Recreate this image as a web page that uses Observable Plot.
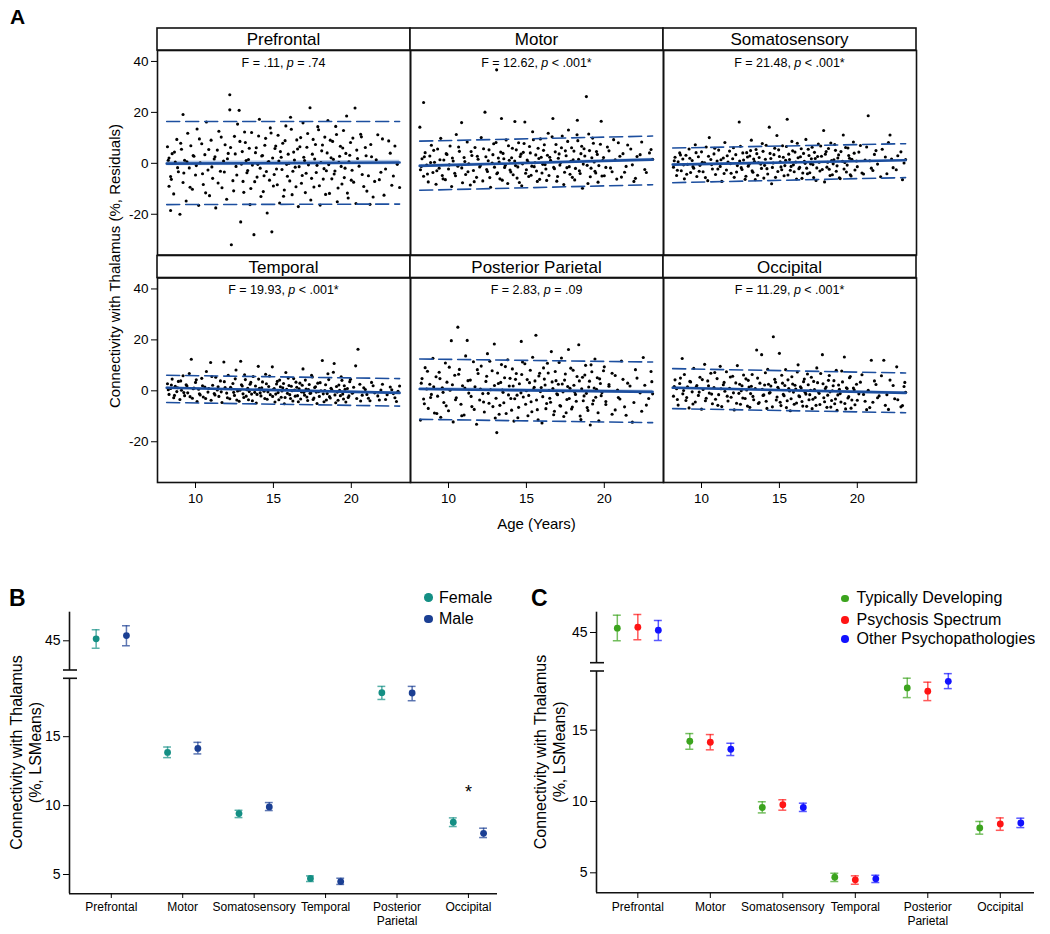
<!DOCTYPE html>
<html><head><meta charset="utf-8">
<script src="https://cdn.jsdelivr.net/npm/d3@7"></script>
<script src="https://cdn.jsdelivr.net/npm/@observablehq/plot@0.6"></script>
<style>
body{margin:0;background:#fff;font-family:"Liberation Sans",Arial,sans-serif;}
#wrap{position:relative;width:1050px;height:934px;overflow:hidden;background:#fff}
.plbl{position:absolute;font-weight:bold;font-family:"Liberation Sans",Arial,sans-serif;line-height:1}
.leg{position:absolute;font-size:16px;line-height:1;white-space:nowrap;color:#000}
.legdot{position:absolute;border-radius:50%}
</style></head><body><div id="wrap"></div>
<script>
// ---------------- DATA ----------------
const regions = ["Prefrontal","Motor","Somatosensory","Temporal","Posterior Parietal","Occipital"];
const fValues = [".11","12.62","21.48","19.93","2.83","11.29"];
const pTexts = ["= .74","< .001*","< .001*","< .001*","= .09","< .001*"];

// scatter (age residual) pairs per region (representative subset)
const scatterPrefrontal = "8.2 6.5,8.3 -9,8.3 2.1,8.4 -18.5,8.4 -5.2,8.5 3.8,8.6 -12,8.7 0.5,8.8 9.4,8.9 -3.3,9.0 -20,9.1 5.5,9.2 19.2,9.2 -7.5,9.3 1.2,9.4 -14.8,9.5 11.8,9.6 -1.8,9.7 6.9,9.8 -10.2,9.9 2.8,10.0 -4.6,10.1 13.5,10.2 -16.5,10.3 0.2,10.4 7.7,10.5 -8.3,10.6 3.4,10.7 16.2,10.8 -2.6,10.9 -12.7,11.0 9.1,11.1 -5.9,11.2 1.7,11.3 -17.5,11.4 5.2,11.5 12.6,11.6 -3.1,11.7 -9.6,11.8 0.9,11.9 7.3,12.0 -14.1,12.1 3.9,12.2 26.9,12.2 21,12.3 -32,12.4 -6.8,12.5 10.6,12.6 -1.2,12.7 15.4,12.8 20.8,12.9 -23,13.0 4.6,13.1 -11.4,13.2 8.2,13.3 -3.7,13.4 1.5,13.5 -16.2,13.6 12.1,13.75 -28,13.8 -7.2,13.9 6.1,14.0 -0.4,14.1 17.3,14.2 -13,14.3 3.1,14.4 -4.9,14.5 9.8,14.6 -19.5,14.7 0.7,14.8 13.9,14.9 -26.9,15.0 -8.9,15.1 5.8,15.2 -2.2,15.3 11,15.4 -15.6,15.5 2.4,15.6 7.9,15.7 -10.5,15.8 14.7,15.9 -5.1,16.0 0,16.1 18.1,16.2 -12.3,16.3 4.4,16.4 -1.5,16.5 9.2,16.6 -17,16.7 6.5,16.8 -7.8,16.9 15.9,17.0 1.1,17.1 -3.9,17.2 11.7,17.35 21.8,17.4 -14.4,17.5 3.6,17.6 -9.3,17.7 7.4,17.8 -0.8,17.9 13.2,18.0 -16.4,18.1 4.9,18.2 -6.2,18.3 10.3,18.4 -2.9,18.5 16.8,18.6 -11.8,18.7 2.2,18.8 8.6,18.9 -4.2,19.0 14.5,19.1 -15.1,19.2 0.4,19.3 6.7,19.4 -8.1,19.5 12.9,19.6 -1.9,19.7 18.6,19.8 -13.6,19.9 3.2,20.0 -6.6,20.1 9.9,20.24 21.7,20.3 -15.8,20.4 1.9,20.6 11.4,20.7 -4.4,20.9 6.2,21.0 -10.9,21.2 -16.1,21.3 2.6,21.5 -7.1,21.7 11.2,21.9 -3.5,22.1 -12.5,22.4 8.8,22.6 -8.6,22.8 6.8,23.1 -9.5,"
 + "8.25 1.2,8.45 -6.3,8.65 4.4,8.85 -1.7,9.05 7.9,9.25 -3.8,9.45 0.6,9.65 -9.4,9.85 3.1,10.05 -0.9,10.25 9.6,10.45 -4.1,10.65 -11.6,10.85 5.4,11.05 -1.4,11.25 2.6,11.45 -7.7,11.65 10.3,11.85 -3.4,12.05 1.8,12.25 6.2,12.45 -10.8,12.55 3.7,12.65 -4.6,12.85 8.6,12.95 -0.3,13.05 -7.1,13.15 12.3,13.25 1.1,13.35 -2.8,13.45 5.9,13.55 -9.9,13.65 -0.7,13.85 4.2,13.95 -5.4,14.05 10.7,14.15 -1.9,14.25 2.9,14.35 -11.1,14.45 7.1,14.55 -3.2,14.65 0.4,14.75 -6.6,14.85 11.9,14.95 2.1,15.05 -4.4,15.15 6.8,15.25 -8.4,15.35 0.9,15.45 4.6,15.55 -2.4,15.65 -12.9,15.75 8.9,15.85 -0.4,15.95 3.6,16.05 -6.9,16.15 13.4,16.25 -3.1,16.35 1.3,16.45 -9.2,16.55 5.6,16.65 -1.3,16.75 10.1,16.85 -4.8,16.95 2.4,17.05 -11.5,17.15 6.3,17.25 -0.6,17.45 -5.9,17.55 9.4,17.65 1.7,17.75 -3.6,17.85 14.4,17.95 -8.8,18.05 0.3,18.15 7.2,18.25 -2.1,18.35 -12.2,18.45 4.1,18.55 -0.5,18.65 9.1,18.75 -6.1,18.85 1.6,18.95 -3.0,19.05 11.3,19.15 -9.7,19.25 2.8,19.35 -1.2,19.45 6.0,19.55 -5.6,19.65 3.9,19.75 -11.7,19.85 0.6,19.95 8.2,20.05 -2.7,20.15 -7.4,20.35 5.2,20.5 -1.1,20.65 10.4,20.8 -9.1,20.95 3.0,21.1 -4.9,21.25 7.4,21.4 -13.2,21.6 1.4,21.8 -6.4,22.0 9.6,22.2 -2.2,22.5 4.0,22.7 -5.0,22.95 -0.4";
const scatterMotor = "8.16 14.2,8.2 -2.5,8.3 1.8,8.4 23.9,8.4 -5.1,8.5 4.2,8.6 -0.7,8.7 -7.3,8.8 2.9,8.9 7.1,9.0 -3.6,9.1 0.4,9.2 -8.2,9.3 5.6,9.4 -1.9,9.5 9.8,9.6 -4.8,9.7 1.3,9.8 -6.4,9.9 3.5,10.0 -2.2,10.1 6.8,10.2 -9.1,10.3 0.9,10.4 -3.9,10.5 11.3,10.6 -1.1,10.7 4.7,10.84 16,10.9 -7.6,11.0 2.3,11.1 -4.4,11.2 8.4,11.3 -0.2,11.4 -8.5,11.5 3.1,11.6 -2.8,11.7 6.2,11.8 -5.5,11.9 1.6,12.0 -1.4,12.1 10.1,12.2 -6.9,12.34 20.1,12.4 2.6,12.5 -3.2,12.6 5.3,12.7 -9.4,12.8 0.1,12.9 7.7,13.09 36.7,13.1 -4.1,13.2 2.1,13.3 -6.1,13.4 17.6,13.5 3.9,13.6 -1.6,13.7 9.2,13.8 -7.9,13.9 1.2,14.0 -3.4,14.1 5.9,14.26 16.4,14.3 -0.9,14.4 -5.8,14.5 8.1,14.6 2.7,14.7 -8.8,14.8 4.3,14.9 16.2,15.0 -2.5,15.1 0.6,15.2 6.6,15.3 -4.7,15.4 12.4,15.5 -1.3,15.6 3.3,15.7 -7.1,15.8 1.9,15.9 9.6,16.0 -3.8,16.1 5.1,16.2 -0.5,16.3 -6.7,16.4 11.8,16.5 2.4,16.7 17.6,16.8 -2.1,16.9 7.4,17.0 -5.2,17.1 3.7,17.2 0.3,17.3 10.7,17.4 -8.3,17.5 4.9,17.6 -1.7,17.7 13.1,17.8 -4.3,17.9 6.1,18.0 1.4,18.1 -6.5,18.27 16.9,18.3 8.9,18.4 -2.9,18.5 3.8,18.6 -9.8,18.7 5.7,18.85 26.2,18.9 -0.8,19.0 11.5,19.1 -5.3,19.2 2.2,19.3 7.9,19.4 -3.1,19.5 4.6,19.6 -7.4,19.8 16.5,19.9 1.1,20.0 -4.9,20.2 6.4,20.4 -1.8,20.6 9.3,20.8 -6.2,21.0 2.8,21.3 -3.5,21.5 7.2,21.8 -0.6,22.0 -5.9,22.3 3.4,22.6 -2.4,22.9 4.1,23.1 1.6,"
 + "8.25 -1.2,8.45 2.6,8.65 -4.2,8.85 0.3,9.05 5.1,9.25 -2.9,9.45 1.4,9.65 -6.1,9.85 3.8,10.05 -0.6,10.25 2.1,10.45 -4.9,10.65 6.4,10.85 -1.8,11.05 0.7,11.25 -3.3,11.45 4.6,11.65 -7.2,11.85 2.8,12.05 -0.9,12.25 5.7,12.45 -2.4,12.55 1.0,12.65 -5.6,12.85 3.4,12.95 -1.5,13.05 8.2,13.15 -3.7,13.25 0.5,13.35 4.4,13.45 -6.6,13.55 1.8,13.65 -0.8,13.85 6.9,13.95 -2.6,14.05 2.2,14.15 -4.5,14.25 0.9,14.35 5.3,14.45 -1.4,14.55 -7.5,14.65 3.6,14.75 -0.2,14.85 7.8,14.95 -3.9,15.05 1.3,15.15 -5.2,15.25 4.1,15.35 -1.1,15.45 9.3,15.55 0.2,15.65 -3.0,15.75 5.9,15.85 -6.3,15.95 2.4,16.05 -0.4,16.15 7.3,16.25 -2.2,16.35 3.2,16.45 -4.8,16.55 1.2,16.65 10.4,16.75 -1.6,16.85 4.5,16.95 -7.0,17.05 2.0,17.15 -0.7,17.25 6.1,17.45 -3.5,17.55 3.0,17.65 8.6,17.75 -1.3,17.85 0.8,17.95 -5.5,18.05 4.8,18.15 -2.0,18.25 11.2,18.35 1.6,18.45 -4.0,18.55 6.7,18.65 -0.3,18.75 2.9,18.95 -7.9,19.05 5.0,19.15 -1.9,19.25 9.9,19.35 0.5,19.45 -3.8,19.55 3.5,19.65 -0.9,19.75 7.5,19.85 -5.0,19.95 2.3,20.1 -1.6,20.3 4.9,20.5 -3.3,20.7 1.4,20.9 8.1,21.1 -5.4,21.2 3.8,21.4 -1.2,21.7 5.6,21.9 -7.1,22.1 2.7,22.4 8.4,22.7 -3.6,23.0 5.4";
const scatterSomatosensory = "8.2 -1.5,8.3 2.4,8.4 -4.8,8.5 0.6,8.6 4.1,8.7 -2.9,8.8 1.7,8.9 -6.1,9.0 3.2,9.1 -0.4,9.2 5.6,9.3 -3.6,9.4 1.1,9.5 -1.9,9.6 7.3,9.7 -5.2,9.8 2.6,9.9 -0.8,10.0 4.5,10.1 -3.3,10.2 0.2,10.3 6.4,10.4 -6.8,10.5 10.1,10.6 1.5,10.7 -2.2,10.8 3.7,10.9 -4.4,11.0 0.9,11.1 5.2,11.2 -1.2,11.3 -7.1,11.4 2.1,11.5 8.2,11.6 -2.6,11.7 0.5,11.8 4.8,11.9 -3.9,12.0 1.8,12.1 -5.5,12.2 3.4,12.3 -0.9,12.42 16.2,12.5 6.7,12.6 -2.4,12.7 1.3,12.8 -6.3,12.9 4.2,13.0 -1.1,13.1 2.9,13.2 9.1,13.3 -3.5,13.4 0.7,13.5 5.4,13.6 -4.7,13.7 2.3,13.8 -0.3,13.9 7.8,14.0 -5.8,14.1 1.6,14.2 -2.1,14.35 14.2,14.4 3.9,14.5 -8,14.6 0.1,14.7 5.9,14.84 10.9,14.9 -3.2,15.0 2.7,15.1 -1.4,15.2 6.9,15.3 -4.9,15.4 1.2,15.5 17.3,15.6 3.6,15.7 -2.7,15.8 8.6,15.9 -0.6,16.0 4.4,16.1 -6.2,16.2 2.2,16.3 -1.6,16.4 5.7,16.5 -3.8,16.6 0.8,16.7 9.4,16.8 -4.1,16.9 3.1,17.0 -0.2,17.1 6.3,17.2 -5.6,17.3 1.9,17.4 -1.8,17.5 7.6,17.6 -3.0,17.7 2.8,17.84 12.9,17.9 -7.3,18.0 4.6,18.1 0.4,18.2 -2.3,18.3 8.0,18.4 -4.5,18.5 1.4,18.6 5.1,18.7 -1.0,18.8 3.3,18.9 -6.0,19.1 11.1,19.2 0.3,19.3 -3.4,19.4 6.0,19.5 2.0,19.6 -5.0,19.8 4.0,20.0 -1.3,20.2 7.0,20.4 -4.2,20.7 18.7,20.8 1.0,21.0 -2.8,21.2 5.0,21.5 -5.3,21.8 2.5,22.1 11.1,22.3 -1.7,22.6 3.0,22.9 -6.4,23.1 1.5,"
 + "8.25 1.0,8.45 -2.7,8.65 3.3,8.85 -0.6,9.05 -4.3,9.25 2.0,9.45 -1.3,9.65 4.2,9.85 -3.1,10.05 0.4,10.25 -5.6,10.45 2.8,10.65 -0.5,10.85 5.9,11.05 -2.2,11.25 1.4,11.45 -4.0,11.65 3.0,11.85 -0.1,12.05 6.1,12.25 -3.4,12.45 0.9,12.55 -1.7,12.65 4.1,12.85 -5.1,12.95 2.5,13.05 -0.4,13.15 5.0,13.25 -2.9,13.35 1.7,13.45 -6.4,13.55 3.8,13.65 0.2,13.85 -2.0,13.95 4.7,14.05 -0.8,14.15 7.1,14.25 -4.2,14.45 1.9,14.55 -1.6,14.65 3.4,14.75 -5.5,14.95 5.3,15.05 0.6,15.15 -2.5,15.25 2.4,15.35 -0.9,15.45 6.6,15.55 -4.6,15.65 1.5,15.75 -1.2,15.85 4.9,15.95 -3.3,16.05 0.5,16.15 7.9,16.25 -2.1,16.35 2.6,16.45 -5.9,16.55 3.9,16.65 0.0,16.75 -1.9,16.85 5.5,16.95 -3.7,17.05 1.8,17.15 -0.5,17.25 4.3,17.35 -6.7,17.45 2.7,17.55 0.4,17.65 6.8,17.75 -2.4,17.95 3.6,18.05 -1.5,18.15 5.8,18.25 -4.8,18.35 1.1,18.45 -0.2,18.55 7.4,18.65 -3.1,18.75 2.1,18.85 -5.7,18.95 4.6,19.05 0.8,19.15 -2.2,19.25 6.2,19.35 -0.7,19.45 3.1,19.55 -4.5,19.65 1.6,19.75 8.4,19.85 -2.6,19.95 0.9,20.1 4.4,20.3 -3.8,20.5 1.3,20.6 6.4,20.9 -1.9,21.1 3.5,21.3 -0.3,21.6 5.5,21.9 -4.1,22.0 8.2,22.2 1.7,22.5 -2.5,22.8 4.5,23.0 0.1";
const scatterTemporal = "8.2 2.8,8.3 -1.4,8.4 0.9,8.5 4.6,8.6 -2.7,8.7 1.8,8.8 -0.3,8.9 3.7,9.0 -3.4,9.1 0.2,9.2 5.9,9.3 -1.9,9.4 2.4,9.5 -0.8,9.6 6.8,9.73 12.4,9.8 -2.9,9.9 1.1,10.0 3.3,10.1 -4.2,10.2 0.6,10.3 -1.6,10.4 4.9,10.5 -2.4,10.6 1.5,10.7 7.6,10.8 -0.5,10.97 11.1,11.0 -3.7,11.1 2.2,11.2 -1.1,11.3 5.3,11.4 0.3,11.5 -2.2,11.6 3.9,11.7 -4.6,11.82 11.3,11.9 1.3,12.0 -0.9,12.1 6.1,12.2 -3.1,12.3 0.8,12.4 2.9,12.5 -1.8,12.6 8.2,12.7 -0.1,12.8 -4.1,12.9 11.6,13.0 1.9,13.1 -2.6,13.2 4.4,13.3 0.4,13.4 -3.5,13.5 2.6,13.6 -1.3,13.7 5.6,13.8 -0.6,13.9 -4.8,14.03 9.6,14.1 1.0,14.2 -2.0,14.3 3.5,14.4 -0.2,14.5 6.5,14.6 -3.3,14.7 1.7,14.8 -1.5,14.93 9.4,15.0 0.5,15.1 -4.4,15.2 2.7,15.3 -0.7,15.4 4.2,15.5 -2.5,15.6 1.2,15.7 -5.1,15.8 7.2,15.9 -1.0,16.0 2.1,16.1 -3.0,16.2 0.0,16.3 4.8,16.4 -2.1,16.5 1.4,16.6 -4.3,16.7 3.0,16.8 -0.4,16.9 8.6,17.0 -1.7,17.1 0.7,17.2 -3.8,17.3 2.5,17.4 -0.9,17.5 5.4,17.6 -2.8,17.7 1.6,17.8 -5.0,17.9 -0.3,18.0 3.2,18.14 11.9,18.2 -1.2,18.3 0.1,18.4 -3.6,18.5 6.7,18.6 -2.3,18.7 1.0,18.9 10.7,19.0 -4.7,19.1 -0.5,19.2 2.3,19.3 -1.9,19.4 4.1,19.5 -3.2,19.6 0.6,19.8 -2.6,19.9 3.6,20.1 -0.8,20.28 9.8,20.43 16.3,20.6 -4.0,20.8 1.2,21.0 -1.4,21.2 -3.9,21.4 2.0,21.7 -2.0,21.9 0.3,22.2 -3.4,22.5 1.5,22.7 -1.1,22.9 -4.2,23.1 1.9,"
 + "8.25 0.4,8.45 2.3,8.65 -1.8,8.85 1.2,9.05 3.9,9.25 -0.7,9.45 1.9,9.65 -2.3,9.85 0.8,10.05 4.3,10.25 -1.2,10.45 2.0,10.65 -3.0,10.85 0.9,11.05 5.6,11.25 -1.6,11.45 1.6,11.65 -0.4,11.85 3.6,12.05 -2.7,12.25 1.4,12.45 -0.6,12.55 4.7,12.65 -3.6,12.85 0.2,12.95 2.4,13.05 -1.2,13.15 6.3,13.25 -2.1,13.35 1.0,13.45 -0.3,13.55 3.3,13.65 -3.9,13.85 1.9,13.95 -1.4,14.05 4.6,14.15 -0.8,14.25 1.2,14.45 -3.0,14.55 2.8,14.65 -0.4,14.75 5.8,14.95 -2.2,15.05 0.9,15.15 -1.3,15.25 3.7,15.35 -3.5,15.45 1.6,15.55 -0.1,15.65 2.9,15.75 -2.6,15.85 0.6,15.95 5.0,16.05 -1.5,16.15 1.8,16.25 -4.0,16.35 0.3,16.45 3.4,16.55 -1.9,16.65 0.8,16.75 -3.2,16.85 2.2,16.95 -0.6,17.05 4.2,17.15 -2.4,17.25 0.5,17.35 -1.0,17.45 6.1,17.55 -3.4,17.65 1.3,17.75 -0.5,17.85 3.0,17.95 -2.2,18.05 0.0,18.25 -4.3,18.35 2.4,18.45 -1.1,18.55 4.4,18.65 -2.8,18.75 0.4,18.85 7.3,18.95 -1.6,19.05 1.7,19.15 -3.7,19.25 0.2,19.35 5.5,19.45 -1.3,19.55 2.0,19.65 -4.4,19.75 0.9,19.85 -2.0,19.95 4.5,20.05 -0.9,20.15 1.4,20.35 -3.0,20.55 2.6,20.7 -1.7,20.9 0.5,21.1 -2.9,21.3 3.3,21.5 -0.8,21.8 -3.6,22.0 2.6,22.3 -1.5,22.6 0.4,22.8 -2.7,23.0 -0.2";
const scatterPosteriorParietal = "8.2 -11.5,8.3 4.8,8.4 -3.2,8.5 9.1,8.6 0.7,8.7 -6.9,8.8 2.6,8.9 -1.4,9.0 12.8,9.1 -8.7,9.2 5.5,9.3 -2.1,9.4 7.3,9.5 -10.4,9.6 1.2,9.7 -4.6,9.8 10.9,9.9 3.4,10.0 -7.8,10.1 0.2,10.18 19.7,10.3 -12.2,10.4 6.1,10.5 -2.7,10.6 25,10.7 8.4,10.8 -5.3,10.9 2.0,11.0 -9.5,11.1 13.7,11.2 19.8,11.3 -0.9,11.4 4.2,11.5 -6.2,11.6 11.4,11.7 1.6,11.8 -13.1,11.9 6.8,12.0 -3.6,12.1 9.7,12.2 -1.1,12.3 -8.3,12.4 3.7,12.5 14.6,12.6 -4.9,12.7 0.4,12.8 7.9,12.94 18.4,13.0 -10.7,13.1 -16.4,13.2 2.9,13.3 -5.7,13.4 10.3,13.5 -0.6,13.6 5.1,13.7 -8.9,13.8 12.2,13.9 1.9,14.0 -3.0,14.1 8.6,14.2 -11.9,14.3 4.5,14.4 -1.7,14.5 -6.5,14.67 19.4,14.7 6.4,14.8 -2.4,14.9 10.6,15.0 0.0,15.1 -9.8,15.2 3.2,15.3 -4.3,15.4 13.2,15.5 1.4,15.61 21.8,15.7 -7.4,15.8 5.8,15.9 -0.3,16.0 -12.6,16.1 9.0,16.2 2.3,16.3 -5.0,16.4 7.0,16.5 -2.9,16.6 15.4,16.7 0.9,16.8 -8.0,16.9 4.0,17.0 -1.5,17.1 11.1,17.2 -6.0,17.3 2.7,17.4 -10.1,17.5 6.6,17.6 -3.4,17.7 16.2,17.8 1.0,17.9 -7.1,18.0 8.1,18.1 -0.5,18.2 -4.1,18.36 18.1,18.4 3.9,18.5 -11.3,18.6 5.3,18.7 -2.0,18.8 10.0,18.9 -6.6,19.0 1.5,19.1 -13.4,19.2 7.5,19.3 -3.8,19.4 12.5,19.5 0.6,19.6 -8.6,19.7 4.7,19.8 -1.9,20.0 9.4,20.1 -5.4,20.3 2.5,20.5 -9.2,20.7 6.0,20.9 -2.6,21.1 11.7,21.3 -6.3,21.5 3.0,21.8 -12.3,22.0 8.3,22.3 -0.8,22.5 13.1,22.7 -5.6,23.0 7.6,23.1 -1.2,"
 + "8.25 3.0,8.45 -5.1,8.65 7.7,8.85 -2.6,9.05 1.6,9.25 -8.9,9.45 4.8,9.65 -0.6,9.85 -5.9,10.05 9.3,10.25 2.4,10.45 -3.5,10.65 6.5,10.85 -9.8,11.05 1.1,11.25 4.0,11.45 -2.2,11.65 -7.3,11.85 8.3,12.05 0.7,12.25 -4.4,12.45 5.7,12.55 -1.0,12.65 11.6,12.85 -6.2,12.95 2.1,13.05 -2.9,13.15 7.0,13.25 -9.2,13.35 3.3,13.45 0.3,13.55 -4.7,13.65 9.5,13.85 -1.6,13.95 4.9,14.05 -7.6,14.15 1.9,14.25 -3.1,14.35 6.8,14.45 -10.6,14.55 2.8,14.65 -0.8,14.75 11.3,14.95 -5.3,15.05 4.4,15.15 -1.8,15.25 8.1,15.35 -8.2,15.45 0.5,15.55 3.9,15.65 -3.6,15.75 -11.4,15.85 6.9,15.95 1.3,16.05 -2.3,16.15 4.6,16.25 -7.0,16.35 10.8,16.45 0.1,16.55 -4.5,16.65 3.5,16.75 -9.4,16.85 7.6,16.95 -1.2,17.05 2.6,17.15 -5.8,17.25 12.9,17.35 -0.4,17.45 4.2,17.55 -8.6,17.65 1.7,17.75 -3.0,17.85 8.9,17.95 -6.4,18.05 2.2,18.15 -1.4,18.25 5.6,18.45 -9.9,18.55 0.8,18.65 -3.9,18.75 6.2,18.85 -1.0,18.95 -7.7,19.05 3.8,19.15 10.2,19.25 -5.2,19.35 1.1,19.45 -2.5,19.55 5.1,19.65 -11.8,19.75 2.9,19.85 -0.7,19.95 7.9,20.1 -4.2,20.3 1.8,20.5 6.9,20.7 -7.5,20.85 0.3,21.0 -3.2,21.2 4.5,21.4 -9.6,21.65 1.9,21.9 -4.6,22.1 5.0,22.4 -8.0,22.6 2.2,22.85 -3.0,23.05 3.6";
const scatterOccipital = "8.2 -2.1,8.3 4.3,8.4 0.8,8.5 -5.6,8.6 2.9,8.76 12.7,8.8 -1.2,8.9 6.4,9.0 -3.8,9.1 1.6,9.2 -6.7,9.3 3.5,9.4 -0.4,9.5 8.8,9.6 -4.4,9.7 2.1,9.8 -1.8,9.9 5.3,10.0 -7.2,10.1 0.5,10.2 10.4,10.3 -2.9,10.4 3.9,10.5 -0.9,10.6 6.9,10.7 -5.1,10.8 1.3,10.9 -3.3,11.0 4.8,11.1 -1.5,11.2 9.6,11.3 -6.2,11.4 2.4,11.5 -0.2,11.6 7.5,11.7 -4.0,11.8 1.0,11.9 -2.5,12.0 5.7,12.1 -7.5,12.2 3.1,12.3 9.9,12.4 -1.0,12.5 -5.3,12.6 2.0,12.7 6.2,12.8 -3.0,12.9 0.3,13.0 4.1,13.1 -6.5,13.2 1.8,13.3 -2.2,13.54 16,13.6 5.0,13.7 -4.6,13.86 14.2,13.9 0.6,14.0 -1.6,14.1 7.1,14.2 -6.9,14.3 2.6,14.4 -0.7,14.61 21.2,14.7 4.5,14.8 -3.6,14.9 1.4,15.0 14.7,15.1 -5.8,15.2 3.0,15.3 -1.9,15.4 8.3,15.5 -3.9,15.6 0.9,15.7 -7.8,15.8 5.5,15.9 -0.5,16.0 2.2,16.1 -4.8,16.2 10.2,16.3 -2.3,16.4 1.1,16.5 -6.0,16.6 4.6,16.7 -1.3,16.8 6.6,16.9 -3.5,17.0 0.2,17.1 -7.0,17.2 3.7,17.3 -2.6,17.4 9.0,17.5 -0.3,17.6 -5.4,17.76 14.2,17.8 2.8,17.9 -4.3,18.0 1.5,18.1 -1.7,18.2 6.0,18.3 -6.4,18.4 0.0,18.5 4.0,18.6 -3.2,18.7 -7.7,18.8 2.3,18.9 -1.1,19.0 7.8,19.17 13.3,19.2 -5.0,19.3 1.2,19.4 -2.8,19.5 5.1,19.6 -6.8,19.8 0.4,20.0 -3.7,20.2 3.4,20.4 -1.4,20.6 -7.4,20.9 12,21.0 -4.5,21.2 2.5,21.4 -2.0,21.7 12,21.8 -5.7,22.1 4.2,22.4 -3.1,22.53 9.4,22.8 -6.3,23.0 1.7,23.1 -0.6,"
 + "8.25 1.7,8.45 -3.4,8.65 5.0,8.85 0.1,9.05 -2.6,9.25 3.7,9.45 -5.2,9.65 1.4,9.85 -0.5,10.05 4.4,10.25 -3.9,10.45 2.0,10.65 -1.3,10.85 7.2,11.05 -5.7,11.25 0.8,11.45 3.3,11.65 -2.1,11.85 5.4,12.05 -0.8,12.25 -4.9,12.45 2.6,12.55 0.0,12.65 -2.8,12.85 4.7,12.95 -6.0,13.05 1.5,13.15 -1.1,13.25 6.4,13.35 -3.5,13.45 0.9,13.65 -5.0,13.75 3.0,13.95 -1.8,14.05 2.3,14.15 -4.1,14.25 8.4,14.35 -0.9,14.45 1.9,14.55 -6.3,14.75 3.4,14.85 -2.4,14.95 0.6,15.05 -4.5,15.15 6.1,15.25 -1.4,15.35 2.1,15.45 -6.6,15.55 4.3,15.65 -0.1,15.75 -3.1,15.85 2.7,15.95 -5.3,16.05 0.7,16.15 7.4,16.25 -2.0,16.35 1.6,16.45 -4.2,16.55 3.6,16.65 -0.6,16.75 -6.1,16.85 2.4,16.95 -1.5,17.05 5.3,17.15 -3.3,17.25 0.5,17.35 -5.7,17.45 3.2,17.55 -1.0,17.65 6.8,17.85 -2.7,17.95 0.9,18.05 -6.5,18.15 4.1,18.25 -0.4,18.35 -3.8,18.45 2.0,18.55 -5.1,18.65 8.1,18.75 -1.6,18.85 0.6,18.95 -4.4,19.05 3.5,19.25 -7.1,19.35 0.9,19.45 -2.3,19.55 5.6,19.65 -3.6,19.75 1.1,19.85 -5.5,19.95 2.6,20.1 -1.2,20.3 6.3,20.5 -4.1,20.7 0.2,20.8 -6.6,21.1 3.9,21.3 -2.7,21.55 5.9,21.9 -1.5,22.0 -7.3,22.3 2.1,22.6 -3.5,22.9 -5.8,23.05 3.3";
const scatterStrings = [scatterPrefrontal, scatterMotor, scatterSomatosensory, scatterTemporal, scatterPosteriorParietal, scatterOccipital];

// regression fits: value at first and last age
const fitAges = [8.15, 23.1];
const fitMean  = [[-0.1, 0.3], [-1.0, 1.45], [-0.5, 1.2], [1.2, -0.8], [0.7, -0.4], [1.2, -0.8]];
const fitUpper = [[16.4, 16.4], [8.7, 10.7], [6.0, 7.7], [6.1, 4.8], [12.5, 11.3], [8.7, 7.0]];
const fitLower = [[-16.2, -16.0], [-10.6, -8.4], [-7.6, -5.6], [-4.6, -6.0], [-11.2, -12.5], [-7.0, -8.6]];
const fitCI    = [0.9, 0.5, 0.35, 0.3, 0.6, 0.4];

// Panel B
const sexGroups = ["Female", "Male"];
const sexMean = {Female: [45.14, 13.86, 9.42, 4.71, 18.19, 8.79], Male: [45.38, 14.15, 9.90, 4.49, 18.17, 7.99]};
const sexLo   = {Female: [44.46, 13.48, 9.13, 4.49, 17.70, 8.48], Male: [44.64, 13.75, 9.64, 4.28, 17.61, 7.68]};
const sexHi   = {Female: [45.80, 14.25, 9.66, 4.90, 18.65, 9.11], Male: [46.09, 14.59, 10.22, 4.73, 18.65, 8.36]};
const sexSig  = [{region: "Occipital", y: 11.3, text: "*"}];

// Panel C
const dxGroups = ["Typically Developing", "Psychosis Spectrum", "Other Psychopathologies"];
const dxMean = {
  "Typically Developing":    [45.30, 14.22, 9.58, 4.69, 17.96, 8.15],
  "Psychosis Spectrum":      [45.37, 14.15, 9.77, 4.51, 17.73, 8.43],
  "Other Psychopathologies": [45.16, 13.66, 9.58, 4.58, 18.42, 8.50]};
const dxLo = {
  "Typically Developing":    [44.42, 13.66, 9.20, 4.39, 17.28, 7.71],
  "Psychosis Spectrum":      [44.49, 13.62, 9.39, 4.20, 17.07, 7.98],
  "Other Psychopathologies": [44.44, 13.22, 9.30, 4.32, 17.91, 8.17]};
const dxHi = {
  "Typically Developing":    [46.21, 14.76, 9.98, 4.97, 18.64, 8.60],
  "Psychosis Spectrum":      [46.26, 14.69, 10.12, 4.79, 18.36, 8.85],
  "Other Psychopathologies": [45.84, 14.08, 9.88, 4.83, 18.96, 8.83]};

const catLabels = ["Prefrontal", "Motor", "Somatosensory", "Temporal", "Posterior\nParietal", "Occipital"];
const yTicksB = [5, 10, 15, 45];
const yTicksA = [-20, 0, 20, 40];
const xTicksA = [10, 15, 20];

// ---------------- STYLE ----------------
const FONT = '"Liberation Sans", Arial, sans-serif';
const lineBlue = "#1d4f9f";
const bandBlue = "#9fb9df";
const sexColors = ["#148f84", "#1b3f93"];
const dxColors = ["#3ca41e", "#ff1414", "#1212ff"];

const wrap = document.getElementById("wrap");
function place(el, left, top) { el.style.position = "absolute"; el.style.left = left + "px"; el.style.top = top + "px"; wrap.appendChild(el); return el; }

// ---------------- PANEL A ----------------
const scatter = [];
scatterStrings.forEach((s, i) => {
  s.split(",").forEach(p => {
    const [a, v] = p.trim().split(/\s+/).map(Number);
    scatter.push({region: regions[i], col: i % 3, row: Math.floor(i / 3), age: a, val: v});
  });
});
const fitLines = [];
const fitBand = [];
regions.forEach((r, i) => {
  const col = i % 3, row = Math.floor(i / 3);
  [["mean", fitMean[i]], ["upper", fitUpper[i]], ["lower", fitLower[i]]].forEach(([kind, vals]) => {
    fitAges.forEach((a, k) => fitLines.push({region: r, col, row, kind, age: a, val: vals[k]}));
  });
  fitAges.forEach((a, k) => fitBand.push({region: r, col, row, age: a, lo: fitMean[i][k] - fitCI[i], hi: fitMean[i][k] + fitCI[i]}));
});

const chartA = Plot.plot({
  width: 1050, height: 540,
  marginLeft: 157, marginRight: 134, marginTop: 50, marginBottom: 58,
  style: {fontFamily: FONT, fontSize: "13.5px", color: "#000", background: "transparent"},
  fx: {domain: [0, 1, 2], padding: 0, axis: null, round: false},
  fy: {domain: [0, 1], paddingInner: 0.101, paddingOuter: 0, axis: null, round: false},
  x: {domain: [7.56, 23.8]},
  y: {domain: [-36, 44.3]},
  marks: [
    Plot.areaY(fitBand, {fx: "col", fy: "row", x: "age", y1: "lo", y2: "hi", z: "region", fill: bandBlue, fillOpacity: 0.8}),
    Plot.dot(scatter, {fx: "col", fy: "row", x: "age", y: "val", r: 1.55, fill: "#000", stroke: "none"}),
    Plot.line(fitLines.filter(d => d.kind === "mean"), {fx: "col", fy: "row", x: "age", y: "val", z: "region", stroke: lineBlue, strokeWidth: 2.6}),
    Plot.line(fitLines.filter(d => d.kind !== "mean"), {fx: "col", fy: "row", x: "age", y: "val", z: d => d.region + d.kind, stroke: lineBlue, strokeWidth: 1.6, strokeDasharray: "13,6"}),
    Plot.frame({stroke: "#111", strokeWidth: 1.6}),
    Plot.axisY({ticks: yTicksA, tickFormat: d => String(d), tickSize: 6, tickPadding: 3, label: null, fontSize: 13.5}),
    Plot.axisX({ticks: xTicksA, tickSize: 6, tickPadding: 5, label: null, fontSize: 13.5})
  ]
});
place(chartA, 0, 0);

(function decorateA() {
  const svg = d3.select(chartA.tagName.toLowerCase() === "svg" ? chartA : chartA.querySelector("svg"));
  const sfx = chartA.scale("fx"), sfy = chartA.scale("fy");
  const bw = sfx.bandwidth, bh = sfy.bandwidth;
  const g = svg.append("g").attr("font-family", FONT).attr("fill", "#000");
  regions.forEach((r, i) => {
    const col = i % 3, row = Math.floor(i / 3);
    const x0 = sfx.apply(col), y0 = sfy.apply(row);
    g.append("rect").attr("x", x0).attr("y", y0 - 22).attr("width", bw).attr("height", 22)
      .attr("fill", "#fff").attr("stroke", "#111").attr("stroke-width", 1.6);
    g.append("text").attr("x", x0 + bw / 2).attr("y", y0 - 11).attr("dy", "0.36em")
      .attr("text-anchor", "middle").attr("font-size", 17).text(r);
    const t = g.append("text").attr("x", x0 + bw / 2).attr("y", y0 + 12).attr("dy", "0.36em")
      .attr("text-anchor", "middle").attr("font-size", 12.5);
    t.append("tspan").text("F = " + fValues[i] + ", ");
    t.append("tspan").attr("font-style", "italic").text("p");
    t.append("tspan").text(" " + pTexts[i]);
  });
  const top = sfy.apply(0), bottom = sfy.apply(1) + bh;
  g.append("text").attr("transform", `translate(115,${(top + bottom) / 2}) rotate(-90)`)
    .attr("text-anchor", "middle").attr("dy", "0.36em").attr("font-size", 15)
    .text("Connectivity with Thalamus (%, Residuals)");
  const left = sfx.apply(0), right = sfx.apply(2) + bw;
  g.append("text").attr("x", (left + right) / 2).attr("y", 524).attr("dy", "0.36em")
    .attr("text-anchor", "middle").attr("font-size", 15).text("Age (Years)");
})();

const lblA = document.createElement("div"); lblA.className = "plbl"; lblA.style.fontSize = "21px"; lblA.textContent = "A";
place(lblA, 10, 6);

// ---------------- PANELS B & C ----------------
function groupPlot(opts) {
  const {groups, colors, mean, lo, hi, offsets, xDomain, yDomain, yRange, width, height, marginLeft, marginRight, sig, titleX} = opts;
  const rows = [];
  groups.forEach((g, gi) => regions.forEach((r, ri) => rows.push({group: g, region: r, pos: ri + 1 + offsets[gi], mean: mean[g][ri], lo: lo[g][ri], hi: hi[g][ri]})));
  const cap = 0.055;
  const x0 = xDomain[0];
  const chart = Plot.plot({
    width, height, marginLeft, marginRight, marginTop: 52, marginBottom: 41,
    style: {fontFamily: FONT, fontSize: "13px", color: "#000", background: "transparent"},
    x: {domain: xDomain},
    y: {type: "linear", domain: yDomain, range: yRange},
    color: {domain: groups, range: colors},
    marks: [
      Plot.ruleX([x0], {y1: yDomain[0], y2: yDomain[1], stroke: "#111", strokeWidth: 1.6}),
      Plot.ruleX([x0], {y1: yDomain[2], y2: yDomain[3], stroke: "#111", strokeWidth: 1.6}),
      Plot.ruleY([yDomain[0]], {stroke: "#111", strokeWidth: 1.6}),
      Plot.axisY({ticks: yTicksB, tickFormat: d => String(d), tickSize: 6, tickPadding: 3, label: null, fontSize: 14}),
      Plot.axisX({ticks: [1, 2, 3, 4, 5, 6], tickFormat: i => catLabels[i - 1], tickSize: 5, tickPadding: 2, label: null, fontSize: 12, lineHeight: 1.2}),
      Plot.ruleX(rows, {x: "pos", y1: "lo", y2: "hi", stroke: "group", strokeWidth: 1.5, strokeOpacity: 0.7}),
      Plot.ruleY(rows, {y: "lo", x1: d => d.pos - cap, x2: d => d.pos + cap, stroke: "group", strokeWidth: 1.5, strokeOpacity: 0.7}),
      Plot.ruleY(rows, {y: "hi", x1: d => d.pos - cap, x2: d => d.pos + cap, stroke: "group", strokeWidth: 1.5, strokeOpacity: 0.7}),
      Plot.dot(rows, {x: "pos", y: "mean", fill: "group", r: 3.4, stroke: "none"}),
      ...(sig ? [Plot.text(sig, {x: d => regions.indexOf(d.region) + 1, y: "y", text: "text", fontSize: 18, dy: 5})] : [])
    ]
  });
  const svg = d3.select(chart.tagName.toLowerCase() === "svg" ? chart : chart.querySelector("svg"));
  const sx = chart.scale("x"), sy = chart.scale("y");
  const ax = sx.apply(x0);
  const g = svg.append("g");
  [yDomain[1], yDomain[2]].forEach(v => {
    const py = sy.apply(v);
    g.append("line").attr("x1", ax - 6).attr("x2", ax + 8).attr("y1", py).attr("y2", py)
      .attr("stroke", "#111").attr("stroke-width", 1.6);
  });
  const cy = (sy.apply(yDomain[3]) + sy.apply(yDomain[0])) / 2;
  const t = g.append("text").attr("font-family", FONT).attr("font-size", 16).attr("text-anchor", "middle")
    .attr("transform", `translate(${titleX},${cy}) rotate(-90)`);
  t.append("tspan").attr("x", 0).attr("dy", "0.36em").text("Connectivity with Thalamus");
  t.append("tspan").attr("x", 0).attr("dy", "1.2em").text("(%, LSMeans)");
  return chart;
}

const chartB = groupPlot({
  groups: sexGroups, colors: sexColors, mean: sexMean, lo: sexLo, hi: sexHi,
  offsets: [-0.212, 0.212], xDomain: [0.415, 6.407],
  yDomain: [3.6, 19.2, 42.85, 47.07], yRange: [333.3, 118.3, 110, 51.7],
  width: 520, height: 374, marginLeft: 69, marginRight: 23, sig: sexSig, titleX: 16
});
place(chartB, 0, 560);

const chartC = groupPlot({
  groups: dxGroups, colors: dxColors, mean: dxMean, lo: dxLo, hi: dxHi,
  offsets: [-0.283, 0, 0.283], xDomain: [0.43, 6.472],
  yDomain: [3.6, 19.11, 42.85, 46.42], yRange: [332.3, 111, 102.7, 51.7],
  width: 530, height: 374, marginLeft: 76, marginRight: 16, sig: null, titleX: 20
});
place(chartC, 520, 560);

const lblB = document.createElement("div"); lblB.className = "plbl"; lblB.style.fontSize = "23px"; lblB.textContent = "B";
place(lblB, 9, 587);
const lblC = document.createElement("div"); lblC.className = "plbl"; lblC.style.fontSize = "23px"; lblC.textContent = "C";
place(lblC, 531, 587);

function legend(items, colors, cx, ys, tx, r) {
  items.forEach((name, i) => {
    const d = document.createElement("div"); d.className = "legdot";
    d.style.width = d.style.height = (2 * r) + "px"; d.style.background = colors[i];
    place(d, cx - r, ys[i] - r);
    const t = document.createElement("div"); t.className = "leg"; t.textContent = name;
    place(t, tx, ys[i] - 8);
  });
}
legend(sexGroups, sexColors, 428.3, [597.7, 619], 439, 4.3);
legend(dxGroups, dxColors, 845, [598.3, 620, 639], 856.5, 3.8);
</script></body></html>
